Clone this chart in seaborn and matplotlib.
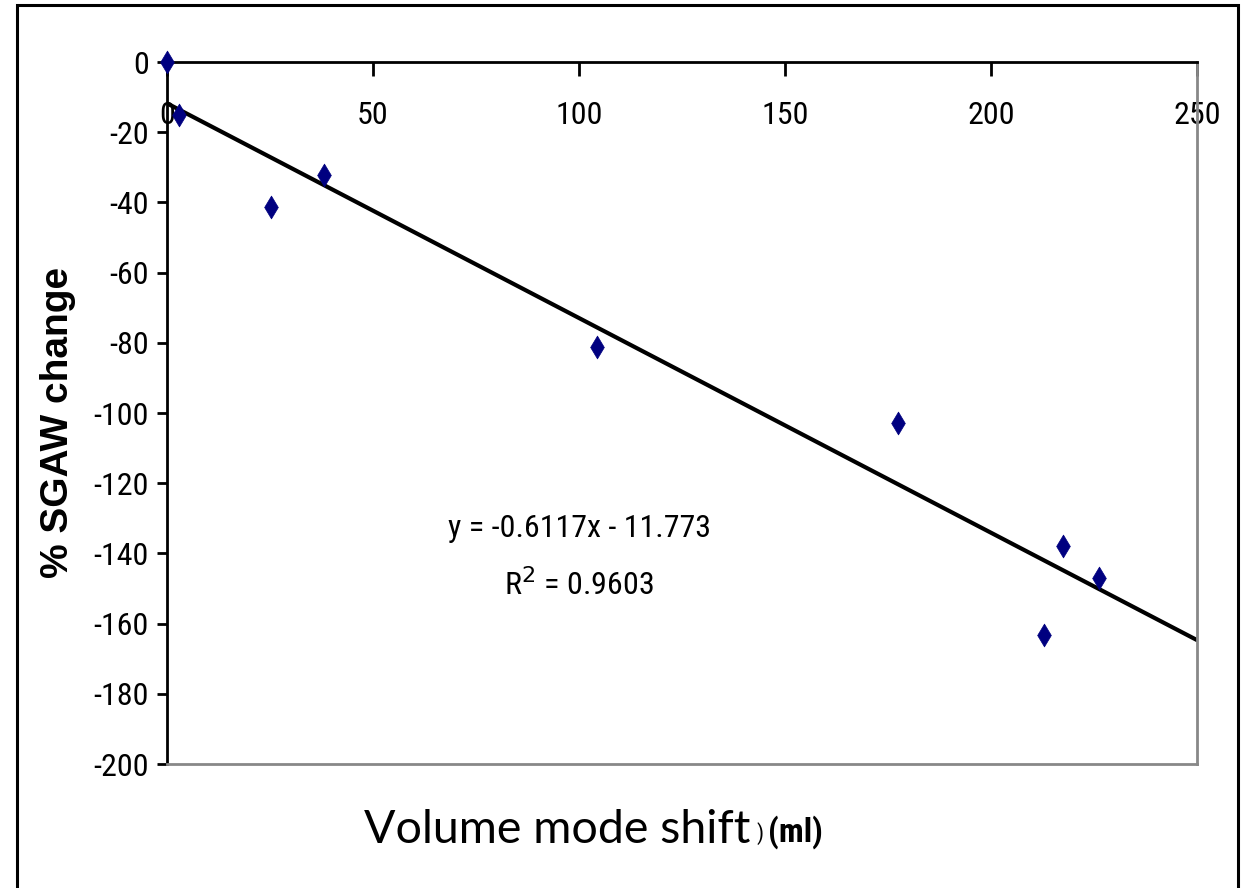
import matplotlib
matplotlib.use("Agg")
import matplotlib.pyplot as plt
import matplotlib.font_manager as fm
import seaborn as sns
import pandas as pd
import numpy as np
from matplotlib.patches import Rectangle

# ---- data ----
volume_shift = [0.0, 2.9, 25.2, 38.1, 104.4, 177.4, 212.9, 217.5, 226.2]
sgaw_change = [0.0, -15.1, -41.3, -32.2, -81.2, -102.8, -163.2, -137.9, -147.0]
slope = -0.6117
intercept = -11.773
r_squared = 0.9603
x_ticks = [0, 50, 100, 150, 200, 250]
y_ticks = [0, -20, -40, -60, -80, -100, -120, -140, -160, -180, -200]

df = pd.DataFrame({"x": volume_shift, "y": sgaw_change})

sns.set_theme(style="white")

# pick a narrow sans font if one is installed
names = {f.name for f in fm.fontManager.ttflist}
narrow_font = None
stretch = "normal"
for cand in ["Liberation Sans Narrow", "Arial Narrow", "Roboto Condensed",
             "Noto Sans Condensed", "Open Sans Condensed"]:
    if cand in names:
        narrow_font = cand
        break
if narrow_font is None:
    for f in fm.fontManager.ttflist:
        if f.name in ("Roboto", "Noto Sans", "Open Sans") and str(f.stretch) in ("condensed", "semi-condensed", "extra-condensed", "75", "87"):
            narrow_font = f.name
            stretch = "condensed"
            break
if narrow_font is None:
    narrow_font = "Liberation Sans"
    tick_size = 21
else:
    tick_size = 23

narrow = [narrow_font, "Liberation Sans", "DejaVu Sans"]
plt.rcParams["font.family"] = narrow
plt.rcParams["font.stretch"] = stretch
plt.rcParams["text.color"] = "black"
plt.rcParams["xtick.color"] = "black"
plt.rcParams["ytick.color"] = "black"

fig = plt.figure(figsize=(12.51, 8.88), dpi=100)
ax = fig.add_axes([167/1251, 1-764/888, (1197-167)/1251, (764-62)/888])

# outer frame
fig.patches.append(Rectangle((17/1251, -0.05), (1238-17)/1251, 1.05-5/888,
                             transform=fig.transFigure, fill=False,
                             edgecolor="black", linewidth=2.2, zorder=0))

# regression line
line_x = np.array([0, 250])
ax.plot(line_x, slope*line_x + intercept, color="black", lw=3, zorder=2)

sns.scatterplot(data=df, x="x", y="y", marker="d", s=135, color="#000080",
                edgecolor="#000080", linewidth=0.5, ax=ax, zorder=3, clip_on=False)

ax.set_xlim(0, 250)
ax.set_ylim(-200, 0)
ax.set_xticks(x_ticks)
ax.set_yticks(y_ticks)
ax.set_xticklabels([str(v) for v in x_ticks])
ax.set_yticklabels([str(v) for v in y_ticks])

for side in ["left", "top"]:
    ax.spines[side].set_color("black")
    ax.spines[side].set_linewidth(2)
for side in ["right", "bottom"]:
    ax.spines[side].set_color("#888888")
    ax.spines[side].set_linewidth(2)
    ax.spines[side].set_visible(True)

ax.tick_params(axis="y", left=True, direction="out", length=7, width=2,
               labelsize=tick_size, pad=6, colors="black")
ax.tick_params(axis="x", top=True, bottom=False, labeltop=True, labelbottom=False,
               direction="in", length=10, width=2, labelsize=tick_size, pad=-49,
               colors="black")
for lbl in ax.get_xticklabels():
    lbl.set_va("bottom")

ax.set_xlabel("")
ax.set_ylabel("")

fig.text(58/1251, 1-422/888, "% SGAW change", rotation=90, ha="center", va="center",
         fontsize=28, fontweight="bold", color="black",
         family=["Liberation Sans", "DejaVu Sans"], fontstretch="normal")

fig.text(750/1251, 1-830/888, "Volume mode shift", ha="right", va="center",
         fontsize=33.5, color="black", family=["Lato", "Open Sans", "DejaVu Sans"],
         fontstretch="normal")
fig.text(756/1251, 1-834/888, ")", ha="left", va="center",
         fontsize=16, color="black", family=narrow)
fig.text(768/1251, 1-832/888, "(ml)", ha="left", va="center",
         fontsize=24, fontweight="bold", color="black", family=narrow)

ax.text(0.40, 0.335, f"y = {slope}x - {abs(intercept)}", transform=ax.transAxes,
        ha="center", va="center", fontsize=tick_size, color="black")
ax.text(0.40, 0.255, "R$^2$ = " + f"{r_squared}", transform=ax.transAxes,
        ha="center", va="center", fontsize=tick_size, color="black")

fig.savefig("out.png", dpi=100, facecolor="white")
